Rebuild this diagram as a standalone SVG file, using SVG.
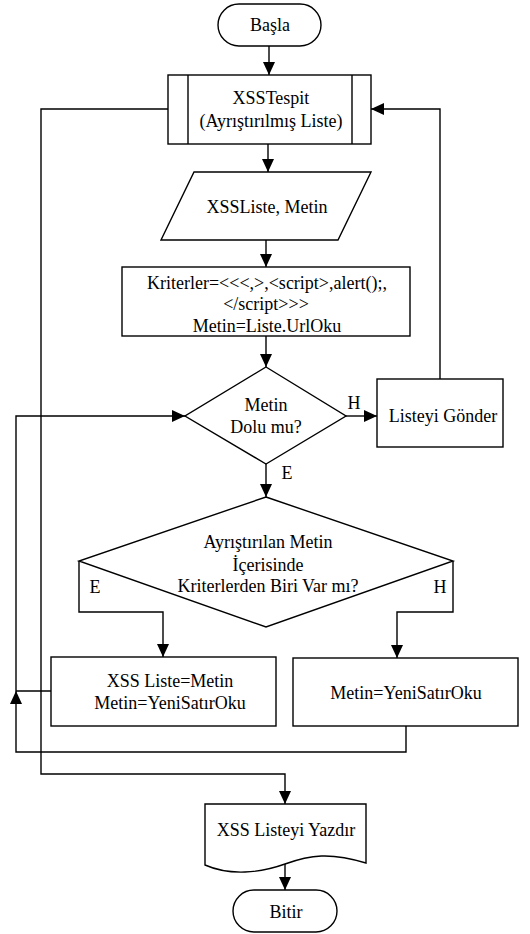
<svg xmlns="http://www.w3.org/2000/svg" width="530" height="934" viewBox="0 0 530 934">
  <defs>
    <marker id="arrow" markerUnits="userSpaceOnUse" markerWidth="14" markerHeight="14" viewBox="0 0 14 14" refX="13" refY="7" orient="auto">
      <path d="M0,1 L13,7 L0,13 Z" fill="#000"/>
    </marker>
    <style>
      .shape { fill: #fff; stroke: #000; stroke-width: 1.4; }
      .line { fill: none; stroke: #000; stroke-width: 1.4; }
      .arr { marker-end: url(#arrow); }
      text { font-family: "Liberation Serif", "Times New Roman", serif; font-size: 18px; fill: #000; text-anchor: middle; }
    </style>
  </defs>
  <rect width="530" height="934" fill="#fff"/>

  <g font-family="Liberation Serif">
  <!-- connectors -->
  <g id="connectors">
    <path class="line arr" d="M269,46 V75"/>
    <path class="line arr" d="M268,144 V172"/>
    <path class="line arr" d="M266,240 V267"/>
    <path class="line arr" d="M266,336 V367"/>
    <path class="line arr" d="M346,416 H377"/>
    <path class="line arr" d="M440,379 V109 H371"/>
    <path class="line arr" d="M266,464 V497"/>
    <path class="line arr" d="M79,561 V612 H163 V657"/>
    <path class="line arr" d="M453,561 V612 H397 V658"/>
    <path class="line" d="M51,691 H16"/>
    <path class="line arr" d="M406,726 V752 H16 V691"/>
    <path class="line arr" d="M16,691 V416 H185"/>
    <path class="line arr" d="M168,109 H41 V774 H285 V804"/>
    <path class="line arr" d="M285,864 V890"/>
    <text x="354" y="409">H</text>
    <text x="287" y="479">E</text>
    <text x="95" y="593">E</text>
    <text x="440" y="593">H</text>
  </g>

  <g id="start">
    <rect class="shape" x="218" y="4" width="103" height="42" rx="21" ry="21"/>
    <text x="270" y="31">Başla</text>
  </g>

  <g id="xsstespit">
    <rect class="shape" x="168" y="75" width="203" height="69"/>
    <path class="line" d="M188,75 V144 M352,75 V144"/>
    <text x="271" y="104">XSSTespit</text>
    <text x="271" y="127">(Ayrıştırılmış Liste)</text>
  </g>

  <g id="input">
    <path class="shape" d="M194,172 H371 L338,240 H161 Z"/>
    <text x="267" y="213">XSSListe, Metin</text>
  </g>

  <g id="criteria">
    <rect class="shape" x="122" y="267" width="288" height="69"/>
    <text x="267" y="289">Kriterler=&lt;&lt;&lt;,&gt;,&lt;script&gt;,alert();,</text>
    <text x="266" y="310">&lt;/script&gt;&gt;&gt;</text>
    <text x="267" y="332">Metin=Liste.UrlOku</text>
  </g>

  <g id="decision-empty">
    <path class="shape" d="M266,367 L346,416 L266,464 L185,416 Z"/>
    <text x="266" y="411">Metin</text>
    <text x="266" y="433">Dolu mu?</text>
  </g>

  <g id="send">
    <rect class="shape" x="377" y="379" width="126" height="68"/>
    <text x="443" y="422" font-size="17">Listeyi Gönder</text>
  </g>

  <g id="decision-criteria">
    <path class="shape" d="M266,497 L453,561 L266,627 L79,561 Z"/>
    <text x="268" y="548">Ayrıştırılan Metin</text>
    <text x="268" y="571">İçerisinde</text>
    <text x="268" y="592">Kriterlerden Biri Var mı?</text>
  </g>

  <g id="assign">
    <rect class="shape" x="51" y="657" width="225" height="69"/>
    <text x="170" y="687">XSS Liste=Metin</text>
    <text x="170" y="709">Metin=YeniSatırOku</text>
  </g>

  <g id="next-line">
    <rect class="shape" x="293" y="658" width="225" height="68"/>
    <text x="406" y="699">Metin=YeniSatırOku</text>
  </g>

  <g id="print">
    <path class="shape" d="M205,804 H366 V863 C330,852 310,855 285,864 C260,873 230,876 205,865 Z"/>
    <text x="286" y="836">XSS Listeyi Yazdır</text>
  </g>

  <g id="end">
    <rect class="shape" x="233" y="890" width="104" height="42" rx="21" ry="21"/>
    <text x="286" y="918">Bitir</text>
  </g>
  </g>
</svg>
